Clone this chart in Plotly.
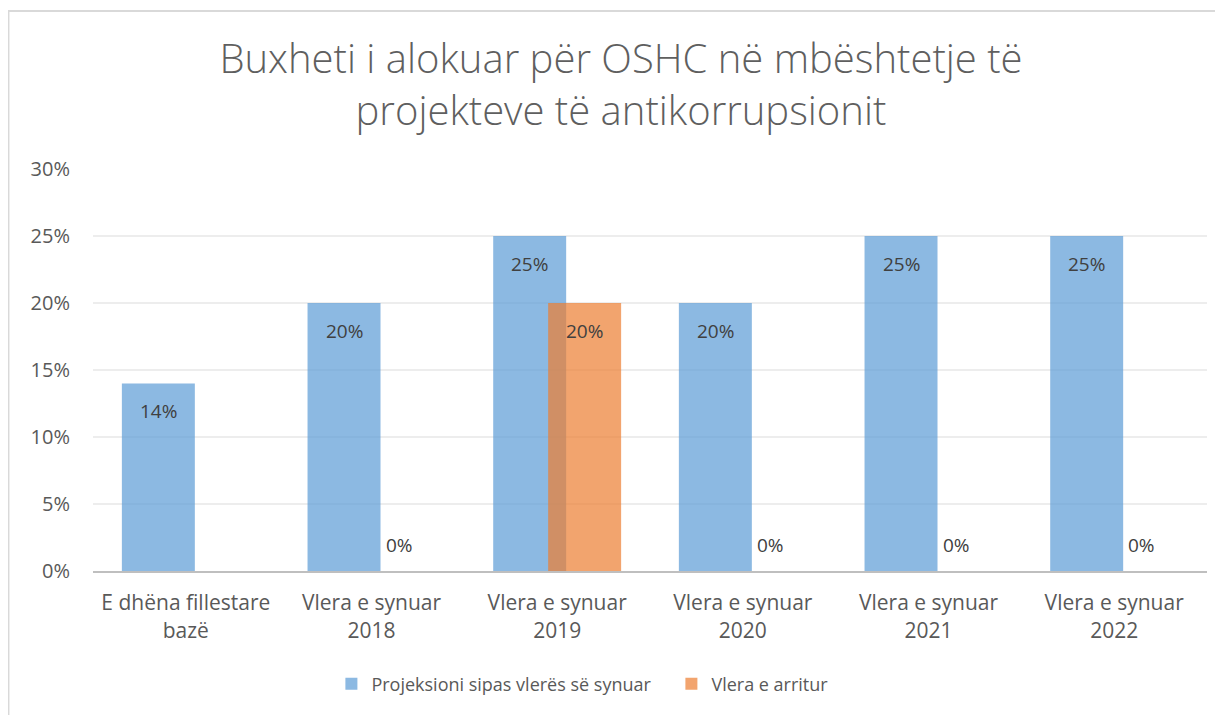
import plotly.graph_objects as go

categories = ["E dhëna fillestare<br>bazë", "Vlera e synuar<br>2018", "Vlera e synuar<br>2019",
              "Vlera e synuar<br>2020", "Vlera e synuar<br>2021", "Vlera e synuar<br>2022"]
projeksioni = [0.14, 0.20, 0.25, 0.20, 0.25, 0.25]
arritur = [None, 0.0, 0.20, 0.0, 0.0, 0.0]
series_names = ["Projeksioni sipas vlerës së synuar", "Vlera e arritur"]
title_text = "Buxheti i alokuar për OSHC në mbështetje të<br>projekteve të antikorrupsionit"
y_ticks = [0, 0.05, 0.10, 0.15, 0.20, 0.25, 0.30]

FONT = "Open Sans"
BLUE = "rgba(91,155,213,0.7)"
ORANGE = "rgba(237,125,49,0.7)"
W = 0.393
SEP = 0.148

fig = go.Figure()
fig.add_trace(go.Bar(x=categories, y=projeksioni, name=series_names[0],
                     marker=dict(color=BLUE, line=dict(width=0)),
                     width=W, offset=-SEP - W / 2))
fig.add_trace(go.Bar(x=categories, y=arritur, name=series_names[1],
                     marker=dict(color=ORANGE, line=dict(width=0)),
                     width=W, offset=SEP - W / 2))

annotations = []
px_shift = 27.5
for vals, sh in ((projeksioni, -px_shift), (arritur, px_shift)):
    for c, v in zip(categories, vals):
        if v is None:
            continue
        annotations.append(dict(x=c, y=v, xref="x", yref="y", text=f"{round(v*100)}%",
                                showarrow=False, xshift=sh, yshift=(-28 if v > 0 else 26),
                                font=dict(family=FONT, size=19, color="#404040")))

fig.update_layout(
    width=1215, height=707,
    barmode="overlay",
    paper_bgcolor="white", plot_bgcolor="white",
    margin=dict(l=85, r=16, t=161, b=144),
    title=dict(text=title_text, x=0.5045, xanchor="center", y=0.908, yanchor="top",
               font=dict(family=FONT, size=40, color="#5f5f5f", weight=300)),
    font=dict(family=FONT, color="#595959"),
    showlegend=True,
    legend=dict(orientation="h", x=0.214, xanchor="left", y=-0.235, yanchor="top",
                font=dict(family=FONT, size=18, color="#595959"), itemwidth=30,
                entrywidth=295, entrywidthmode="pixels",
                traceorder="normal"),
    annotations=annotations,
    shapes=[dict(type="rect", xref="paper", yref="paper",
                 x0=-0.0759, x1=1.03, y0=-0.4, y1=1.393,
                 line=dict(color="#D9D9D9", width=2), layer="below")],
)
fig.update_xaxes(type="category", showgrid=False, showline=True, linecolor="#BFBFBF",
                 linewidth=2, ticks="", tickfont=dict(family=FONT, size=21, color="#595959"),
                 ticklabelstandoff=12)
fig.update_yaxes(range=[0, 0.30], tickvals=y_ticks, tickformat=".0%", showgrid=True,
                 gridcolor="#EDEDED", gridwidth=1.5, zeroline=False, showline=False,
                 tickfont=dict(family=FONT, size=20, color="#595959"), ticklabelstandoff=22)

fig.write_html("out.html")
